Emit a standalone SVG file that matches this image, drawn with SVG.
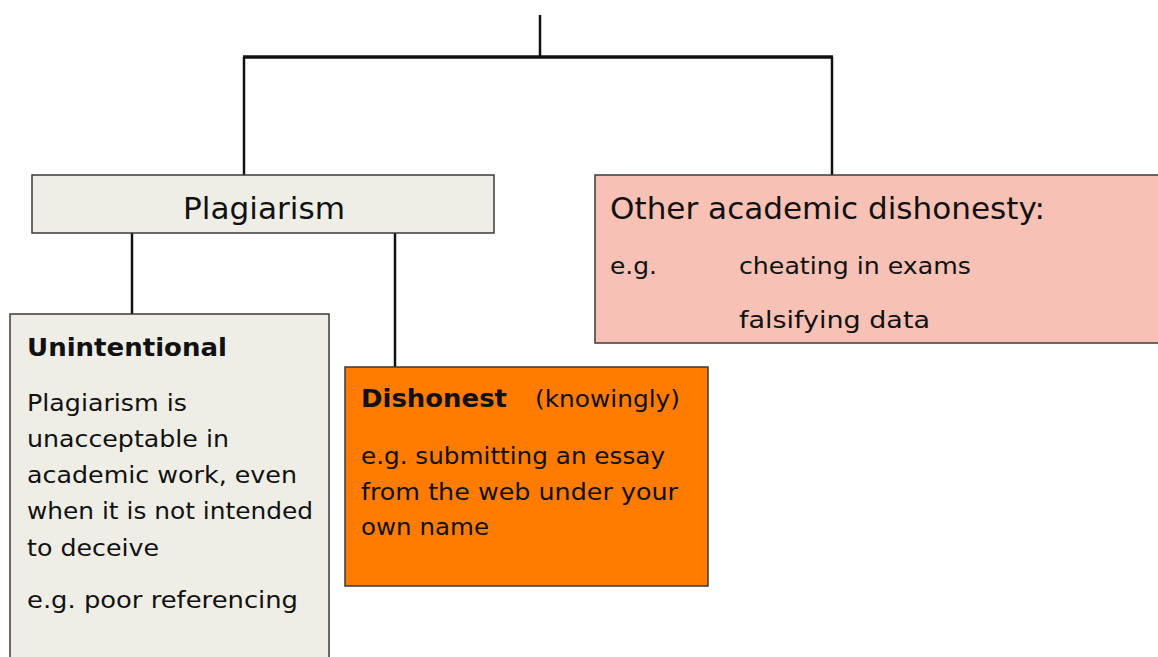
<svg xmlns="http://www.w3.org/2000/svg" width="1158" height="657" viewBox="0 0 1158 657">
<style>
text{font-family:"DejaVu Sans","Liberation Sans",sans-serif;fill:#111}
.box{stroke:#3a3a3a;stroke-width:1.5}
.beige{fill:#EFEEE6}
.pink{fill:#F8C1B5}
.orange{fill:#FF7C00}
.conn line{stroke:#111;stroke-width:2.5}
.h{font-size:30px}
.b{font-size:25px;font-weight:bold}
.t{font-size:23.5px}
</style>
<rect width="1158" height="657" fill="#fff"/>
<g class="conn">
<line x1="540" y1="15" x2="540" y2="57"/>
<line x1="243" y1="57" x2="833" y2="57" style="stroke-width:3.5"/>
<line x1="244" y1="57" x2="244" y2="175"/>
<line x1="832" y1="57" x2="832" y2="175"/>
<line x1="132" y1="233" x2="132" y2="314"/>
<line x1="395" y1="233" x2="395" y2="367"/>
</g>
<g id="plagiarism">
<rect class="box beige" x="32" y="175" width="462" height="58"/>
<text class="h" x="183" y="219" textLength="162" lengthAdjust="spacingAndGlyphs">Plagiarism</text>
</g>
<g id="other">
<rect class="box pink" x="595" y="175" width="570" height="168"/>
<text class="h" x="610" y="219" textLength="435" lengthAdjust="spacingAndGlyphs">Other academic dishonesty:</text>
<text class="t" x="610" y="274" textLength="47" lengthAdjust="spacingAndGlyphs">e.g.</text>
<text class="t" x="739" y="274" textLength="232" lengthAdjust="spacingAndGlyphs">cheating in exams</text>
<text class="t" x="739" y="328" textLength="191" lengthAdjust="spacingAndGlyphs">falsifying data</text>
</g>
<g id="unintentional">
<rect class="box beige" x="10" y="314" width="319" height="350"/>
<text class="b" x="27" y="356" textLength="200" lengthAdjust="spacingAndGlyphs">Unintentional</text>
<text class="t" x="27" y="411" textLength="160" lengthAdjust="spacingAndGlyphs">Plagiarism is</text>
<text class="t" x="27" y="447" textLength="202" lengthAdjust="spacingAndGlyphs">unacceptable in</text>
<text class="t" x="27" y="483" textLength="270" lengthAdjust="spacingAndGlyphs">academic work, even</text>
<text class="t" x="27" y="519" textLength="286" lengthAdjust="spacingAndGlyphs">when it is not intended</text>
<text class="t" x="27" y="556" textLength="132" lengthAdjust="spacingAndGlyphs">to deceive</text>
<text class="t" x="27" y="608" textLength="271" lengthAdjust="spacingAndGlyphs">e.g. poor referencing</text>
</g>
<g id="dishonest">
<rect class="box orange" x="345" y="367" width="363" height="219"/>
<text class="b" x="361" y="407" textLength="146" lengthAdjust="spacingAndGlyphs">Dishonest</text>
<text class="t" x="535" y="407" textLength="145" lengthAdjust="spacingAndGlyphs">(knowingly)</text>
<text class="t" x="361" y="464" textLength="304" lengthAdjust="spacingAndGlyphs">e.g. submitting an essay</text>
<text class="t" x="361" y="500" textLength="317" lengthAdjust="spacingAndGlyphs">from the web under your</text>
<text class="t" x="361" y="535" textLength="128" lengthAdjust="spacingAndGlyphs">own name</text>
</g>
</svg>
